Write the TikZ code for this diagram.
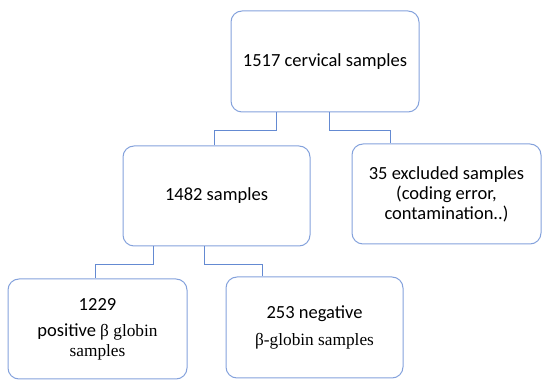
\documentclass[tikz,border=0pt]{standalone}
\usepackage{fontspec}
\setmainfont{Carlito}
\newfontfamily\serifgreek{Liberation Serif}
\usetikzlibrary{positioning}
\definecolor{boxblue}{RGB}{132,162,220}
\definecolor{linkblue}{RGB}{100,138,210}
\newcommand{\greekpart}[1]{{\serifgreek\fontsize{17.3}{20}\selectfont #1}}

\begin{document}
\begin{tikzpicture}[x=1pt,y=-1pt]

\tikzset{stage/.style = {shape=rectangle,draw=boxblue,line width=1pt,rounded corners=11pt,align=center,font=\fontsize{18.5}{20}\selectfont}}
\tikzset{link/.style = {draw=linkblue,line width=1pt}}
\useasboundingbox (0,0) rectangle (550,387);
% boxes
\node[stage,minimum width=188pt,minimum height=101pt] (total) at (325,61.5) {1517 cervical samples};
\node[stage,minimum width=187pt,minimum height=100pt] (kept) at (216.5,196) {1482 samples};
\node[stage,minimum width=189pt,minimum height=100pt] (excl) at (446.5,194) {35 excluded samples\\(coding error,\\contamination..)};
\node[stage,minimum width=179pt,minimum height=100pt] (pos) at (97.5,329) {1229\\[6pt]positive \greekpart{β globin}\\\greekpart{samples}};
\node[stage,minimum width=177pt,minimum height=101pt] (neg) at (314.5,327.5) {253 negative\\[7pt]\greekpart{β-globin samples}};
% connectors
\draw[link] ([xshift=-49pt]total.south) -- ++(0,18) -| ([xshift=-2.5pt]kept.north);
\draw[link] ([xshift=4pt]total.south) -- ++(0,18) -| ([xshift=-56.5pt]excl.north);
\draw[link] ([xshift=-63.5pt]kept.south) -- ++(0,18) -| ([xshift=-2.5pt]pos.north);
\draw[link] ([xshift=-12.5pt]kept.south) -- ++(0,18) -| ([xshift=-52.5pt]neg.north);
\end{tikzpicture}
\end{document}
